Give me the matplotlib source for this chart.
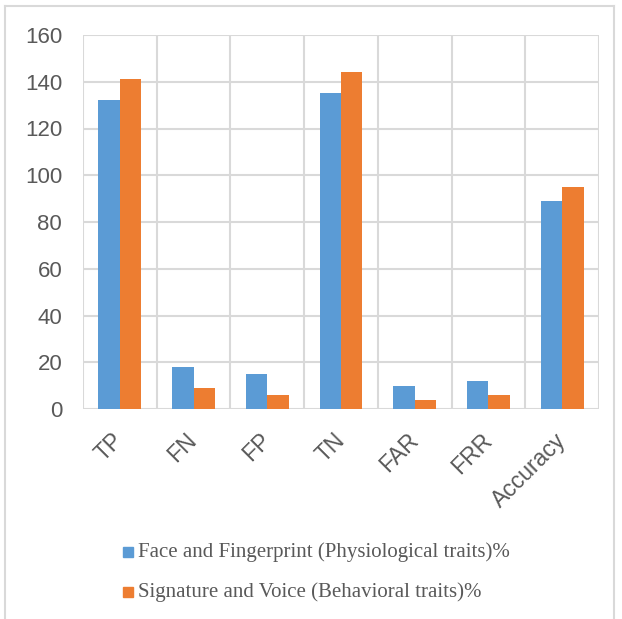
import numpy as np
from matplotlib import pyplot as plt
from matplotlib.patches import Rectangle
from matplotlib.lines import Line2D

categories = ["TP", "FN", "FP", "TN", "FAR", "FRR", "Accuracy"]
physiological = [132, 18, 15, 135, 10, 12, 89]
behavioral = [141, 9, 6, 144, 4, 6, 95]
series_names = ["Face and Fingerprint (Physiological traits)%",
                "Signature and Voice (Behavioral traits)%"]
yticks = [0, 20, 40, 60, 80, 100, 120, 140, 160]

blue = "#5B9BD5"
orange = "#ED7D31"
grid = "#D9D9D9"
text_gray = "#595959"

W, H = 622, 619
fig = plt.figure(figsize=(W / 100, H / 100), dpi=100)
ax = fig.add_axes([83 / W, 1 - 409 / H, (599 - 83) / W, (409 - 35) / H])

x = np.arange(len(categories))
bw = 0.29
ax.bar(x - bw / 2, physiological, bw, color=blue, zorder=3)
ax.bar(x + bw / 2, behavioral, bw, color=orange, zorder=3)

ax.set_xlim(-0.5, len(categories) - 0.5)
ax.set_ylim(0, 160)
ax.set_yticks(yticks)
ax.set_yticklabels([str(v) for v in yticks], fontsize=16, color=text_gray,
                   family="Liberation Sans")
ax.set_xticks(x)
ax.set_xticklabels(categories, rotation=45, ha="right", va="center",
                   rotation_mode="anchor", fontsize=16.5, color=text_gray,
                   family="Liberation Sans")
ax.tick_params(length=0)
ax.tick_params(axis="y", pad=15)
ax.tick_params(axis="x", pad=20)

# gridlines: horizontal at ticks, vertical at category boundaries
for v in yticks:
    ax.axhline(v, color=grid, lw=1.5, zorder=1)
for b in np.arange(-0.5, len(categories), 1.0):
    ax.axvline(b, color=grid, lw=1.5, zorder=1)
for s in ax.spines.values():
    s.set_visible(False)

# chart border (open at bottom)
fig.add_artist(Line2D([5 / W, 5 / W], [0, 1 - 6 / H], color=grid, lw=1.5))
fig.add_artist(Line2D([5 / W, 614 / W], [1 - 6 / H, 1 - 6 / H], color=grid, lw=1.5))
fig.add_artist(Line2D([614 / W, 614 / W], [0, 1 - 6 / H], color=grid, lw=1.5))

# legend drawn manually
for i, (name, col) in enumerate(zip(series_names, [blue, orange])):
    yc = 1 - (552 + 40 * i) / H
    fig.add_artist(Rectangle((123 / W, yc - 5 / H), 10 / W, 10 / H,
                             color=col, transform=fig.transFigure))
    fig.text(138 / W, yc, name, va="center", ha="left", fontsize=15,
             color=text_gray, family="Liberation Serif")

fig.savefig("out.png", dpi=100)
